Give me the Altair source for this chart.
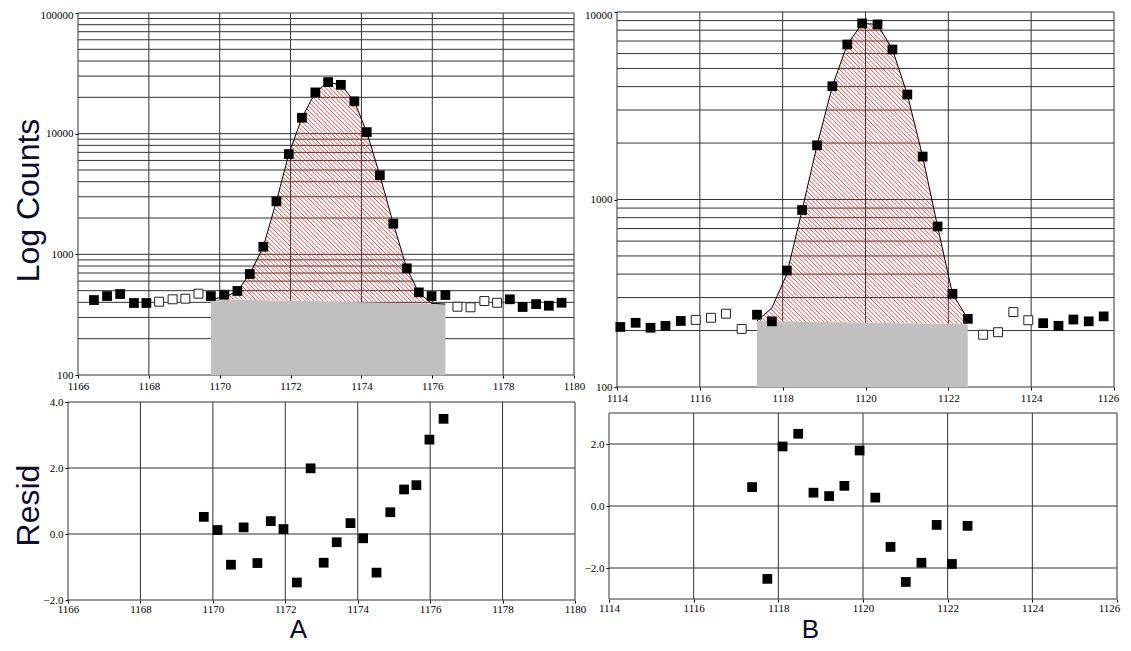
import altair as alt
import pandas as pd
import numpy as np

# ---------------- data ----------------
# Panel A (left): spectrum
a_x = [1166.45, 1166.82, 1167.19, 1167.58, 1167.93, 1168.29, 1168.67, 1169.03, 1169.40,
       1169.75, 1170.13, 1170.50, 1170.85, 1171.23, 1171.60, 1171.95, 1172.32, 1172.70,
       1173.06, 1173.42, 1173.80, 1174.15, 1174.52, 1174.90, 1175.28, 1175.62, 1175.98,
       1176.37, 1176.71, 1177.08, 1177.47, 1177.83, 1178.19, 1178.55, 1178.93, 1179.29, 1179.65]
a_counts = [418, 451, 469, 395, 395, 405, 424, 429, 472,
            451, 463, 497, 687, 1156, 2748, 6776, 13550, 21980, 26740, 25410, 18530, 10300,
            4520, 1795, 766, 484, 451, 460,
            368, 364, 410, 397, 424, 366, 387, 375, 397]
a_open = [0] * 5 + [1] * 4 + [0] * 19 + [1] * 4 + [0] * 5
a_fit_x = [1169.75, 1170.13, 1170.50, 1170.85, 1171.23, 1171.60, 1171.95, 1172.32, 1172.70, 1173.06,
           1173.42, 1173.80, 1174.15, 1174.52, 1174.90, 1175.28, 1175.62, 1175.98, 1176.37]
a_fit_y = [427, 440, 497, 687, 1156, 2748, 6776, 13550, 21980, 26740,
           25410, 18530, 10300, 4520, 1795, 766, 480, 393, 387]
a_bg_x = [1169.75, 1176.37]
a_bg_y = [427, 387]
a_resid = [0.52, 0.12, -0.93, 0.20, -0.88, 0.39, 0.15, -1.47, 1.99, -0.87,
           -0.25, 0.33, -0.13, -1.17, 0.66, 1.35, 1.48, 2.86, 3.49]

# Panel B (right): spectrum
b_x = [1114.08, 1114.45, 1114.81, 1115.17, 1115.54, 1115.90, 1116.27, 1116.63, 1117.01,
       1117.38, 1117.74, 1118.10, 1118.47, 1118.83, 1119.20, 1119.56, 1119.92, 1120.29,
       1120.65, 1121.01, 1121.38, 1121.74, 1122.10, 1122.47,
       1122.84, 1123.20, 1123.57, 1123.93, 1124.29, 1124.66, 1125.02, 1125.39, 1125.75]
b_counts = [209, 220, 207, 212, 225, 228, 234, 246, 204,
            243, 224, 418, 879, 1945, 4020, 6710, 8690, 8590, 6310, 3630, 1695, 718, 314, 231,
            190, 196, 251, 227, 219, 212, 229, 224, 238]
b_open = [0] * 5 + [1] * 4 + [0] * 15 + [1] * 4 + [0] * 5
b_fit_x = [1117.38, 1117.74, 1118.10, 1118.47, 1118.83, 1119.20, 1119.56, 1119.92,
           1120.29, 1120.65, 1121.01, 1121.38, 1121.74, 1122.10, 1122.47]
b_fit_y = [225, 264, 400, 879, 1945, 4020, 6710, 8690, 8590, 6310, 3630, 1695, 718, 314, 231]
b_bg_x = [1117.38, 1122.47]
b_bg_y = [225, 216]
b_resid = [0.61, -2.35, 1.92, 2.33, 0.43, 0.32, 0.65, 1.79, 0.27, -1.32,
           -2.45, -1.83, -0.61, -1.87, -0.64]

# axes / ticks
a_xticks = [1166, 1168, 1170, 1172, 1174, 1176, 1178, 1180]
b_xticks = [1114, 1116, 1118, 1120, 1122, 1124, 1126]
a_yticks = [100, 1000, 10000, 100000]
b_yticks = [100, 1000, 10000]
a_rticks = [-2.0, 0.0, 2.0, 4.0]
a_rgrid = [-2.0, 0.0, 2.0, 4.0]
b_rticks = [-2.0, 0.0, 2.0]
b_rgrid = [-3.0, -2.0, 0.0, 2.0, 3.0]

# ---------------- layout (pixels inside the chart) ----------------
W, H = 1115, 635
TL_X, TL_Y = [70, 566], [367, 5]
TR_X, TR_Y = [609, 1106], [379, 4]
BL_X, BL_Y = [60, 567], [592, 394]
BR_X, BR_Y = [601, 1109], [591, 405]

LABEL_FONT = "Liberation Sans Narrow"
TITLE_FONT = "Liberation Sans"
GRID_COLOR = "#333333"
TITLE_COLOR = "#0b0b2e"


def log_grid(lo_dec, hi_dec):
    vals = []
    for k in range(lo_dec, hi_dec):
        for m in range(1, 10):
            vals.append(m * 10 ** k)
    vals.append(10 ** hi_dec)
    return vals


def hatch_segments(fit_x, fit_y, bg_x, bg_y, xdom, XR, ydom, YR, step=4.4):
    l0, l1 = np.log10(ydom[0]), np.log10(ydom[1])

    def fx(x):
        return XR[0] + (np.asarray(x, float) - xdom[0]) / (xdom[1] - xdom[0]) * (XR[1] - XR[0])

    def fy(v):
        return YR[0] + (np.log10(np.asarray(v, float)) - l0) / (l1 - l0) * (YR[1] - YR[0])

    def ix(p):
        return xdom[0] + (p - XR[0]) / (XR[1] - XR[0]) * (xdom[1] - xdom[0])

    def iy(p):
        return 10 ** (l0 + (p - YR[0]) / (YR[1] - YR[0]) * (l1 - l0))

    px = np.arange(fx(fit_x[0]), fx(fit_x[-1]), 0.1)
    top = np.interp(px, fx(fit_x), fy(fit_y))
    bot = np.interp(px, fx(bg_x), fy(bg_y))
    cmin = (top - px).min()
    cmax = (bot - px).max()
    segs = []
    for c in np.arange(np.floor(cmin / step) * step, cmax + step, step):
        ly = px + c
        inside = (ly > top) & (ly < bot)
        idx = np.flatnonzero(inside)
        if len(idx) == 0:
            continue
        runs = np.split(idx, np.where(np.diff(idx) > 1)[0] + 1)
        for run in runs:
            if len(run) < 2:
                continue
            p1, p2 = px[run[0]], px[run[-1]]
            segs.append((ix(p1), iy(p1 + c), ix(p2), iy(p2 + c)))
    return pd.DataFrame(segs, columns=["x", "y", "x2", "y2"])


def x_axis(values, YR, last_shift=0, title=None, title_x=0, title_y=0, pad=2):
    kw = dict(values=values, format="d", orient="bottom", offset=YR[0] - H, domain=False,
              grid=False, ticks=True, tickSize=3, tickColor="black", labelFont=LABEL_FONT,
              labelFontSize=11, labelColor="black", labelPadding=pad, labelFlush=False,
              labelBound=False, labelOverlap=False,
              labelOffset={"condition": {"test": "datum.value == %d" % values[-1],
                                         "value": last_shift}, "value": 0})
    if title:
        kw.update(title=title, titleX=title_x, titleY=title_y, titleFont=TITLE_FONT,
                  titleFontSize=26, titleFontWeight="normal", titleColor=TITLE_COLOR,
                  titleAlign="center", titleBaseline="alphabetic", titleAngle=0)
    else:
        kw.update(title=None)
    return alt.Axis(**kw)


def y_axis(values, fmt, XR, top_shift=0, title=None, title_x=0, title_y=0):
    kw = dict(values=values, format=fmt, orient="left", offset=-XR[0], domain=False,
              grid=False, ticks=True, tickSize=3, tickColor="black", labelFont=LABEL_FONT,
              labelFontSize=11, labelColor="black", labelPadding=2, labelFlush=False,
              labelBound=False, labelOverlap=False,
              labelOffset={"condition": {"test": "datum.value == %s" % values[-1],
                                         "value": top_shift}, "value": 0})
    if title:
        kw.update(title=title, titleX=title_x, titleY=title_y, titleFont=TITLE_FONT,
                  titleFontSize=32, titleFontWeight="normal", titleColor=TITLE_COLOR,
                  titleAlign="center", titleBaseline="middle", titleAngle=270)
    else:
        kw.update(title=None)
    return alt.Axis(**kw)


def count_panel(xs_list, counts, opens, fit_x, fit_y, bg_x, bg_y, xticks, yticks,
                ydom, XR, YR, last_shift=0, top_shift=0, ytitle=None, ytitle_x=0, ytitle_y=0):
    xdom = [xticks[0], xticks[-1]]
    xsc = alt.Scale(domain=xdom, range=XR, nice=False, zero=False)
    ysc = alt.Scale(type="log", domain=ydom, range=YR, nice=False)
    xax = x_axis(xticks, YR, last_shift)
    yax = y_axis(yticks, "d", XR, top_shift, ytitle, ytitle_x, ytitle_y)
    X = alt.X("x:Q", scale=xsc, axis=xax)
    Y = alt.Y("y:Q", scale=ysc, axis=yax)
    exps = (int(round(np.log10(ydom[0]))), int(round(np.log10(ydom[1]))))

    gv = pd.DataFrame({"x": xticks, "y": ydom[0], "y2": ydom[1]})
    gh = pd.DataFrame({"y": log_grid(*exps), "x": xdom[0], "x2": xdom[1]})
    hatch = hatch_segments(fit_x, fit_y, bg_x, bg_y, xdom, XR, ydom, YR)
    gray = pd.DataFrame({"x": bg_x, "y": bg_y, "base": ydom[0]})
    fit = pd.DataFrame({"x": fit_x, "y": fit_y})
    pts = pd.DataFrame({"x": xs_list, "y": counts, "open": opens})

    l_gv = alt.Chart(gv).mark_rule(color=GRID_COLOR, strokeWidth=1).encode(x=X, y=Y, y2="y2")
    l_gh = alt.Chart(gh).mark_rule(color=GRID_COLOR, strokeWidth=1).encode(x=X, x2="x2", y=Y)
    l_hatch = alt.Chart(hatch).mark_rule(color="#ff1a1a", strokeWidth=0.9, opacity=0.9).encode(
        x=X, x2="x2", y=Y, y2="y2")
    l_gray = alt.Chart(gray).mark_area(color="#c0c0c0", opacity=1).encode(x=X, y=Y, y2="base")
    l_fit = alt.Chart(fit).mark_line(color="black", strokeWidth=1).encode(x=X, y=Y)
    l_fill = alt.Chart(pts[pts["open"] == 0]).mark_square(
        size=95, color="black", opacity=1).encode(x=X, y=Y)
    l_open = alt.Chart(pts[pts["open"] == 1]).mark_square(
        size=80, filled=True, fill="white", stroke="#202020", strokeWidth=1, opacity=1).encode(
        x=X, y=Y)
    return alt.layer(l_gv, l_gh, l_hatch, l_gray, l_fit, l_fill, l_open)


def resid_panel(xs_list, resid, xticks, yticks, ygrid, XR, YR, xtitle, xtitle_x,
                last_shift=0, ytitle=None, ytitle_x=0, ytitle_y=0):
    xdom = [xticks[0], xticks[-1]]
    ydom = [ygrid[0], ygrid[-1]]
    xsc = alt.Scale(domain=xdom, range=XR, nice=False, zero=False)
    ysc = alt.Scale(domain=ydom, range=YR, nice=False, zero=False)
    xax = x_axis(xticks, YR, last_shift, xtitle, xtitle_x, 629.5 - YR[0], pad=0)
    yax = y_axis(yticks, ".1f", XR, 0, ytitle, ytitle_x, ytitle_y)
    X = alt.X("x:Q", scale=xsc, axis=xax)
    Y = alt.Y("y:Q", scale=ysc, axis=yax)
    gv = pd.DataFrame({"x": xticks, "y": ydom[0], "y2": ydom[1]})
    gh = pd.DataFrame({"y": ygrid, "x": xdom[0], "x2": xdom[1]})
    pts = pd.DataFrame({"x": xs_list, "y": resid})
    l_gv = alt.Chart(gv).mark_rule(color=GRID_COLOR, strokeWidth=1).encode(x=X, y=Y, y2="y2")
    l_gh = alt.Chart(gh).mark_rule(color=GRID_COLOR, strokeWidth=1).encode(x=X, x2="x2", y=Y)
    l_pts = alt.Chart(pts).mark_square(size=95, color="black", opacity=1).encode(x=X, y=Y)
    return alt.layer(l_gv, l_gh, l_pts)


TL = count_panel(a_x, a_counts, a_open, a_fit_x, a_fit_y, a_bg_x, a_bg_y, a_xticks, a_yticks,
                 [100, 100000], TL_X, TL_Y, 0, 2, "Log Counts", 20 - TL_X[0], 192)
TR = count_panel(b_x, b_counts, b_open, b_fit_x, b_fit_y, b_bg_x, b_bg_y, b_xticks, b_yticks,
                 [100, 10000], TR_X, TR_Y, -6, 3)
BL = resid_panel(a_fit_x, a_resid, a_xticks, a_rticks, a_rgrid, BL_X, BL_Y, "A", 290, 0,
                 "Resid", 20 - BL_X[0], 497)
BR = resid_panel(b_fit_x, b_resid, b_xticks, b_rticks, b_rgrid, BR_X, BR_Y, "B", 802, -8)

chart = alt.layer(TL, TR, BL, BR).resolve_scale(
    x="independent", y="independent").resolve_axis(
    x="independent", y="independent").properties(
    width=W, height=H, autosize=alt.AutoSizeParams(type="none"), padding=0,
    background="white").configure_view(stroke=None)

chart.save("out.html", embed_options={"renderer": "svg", "actions": False})
